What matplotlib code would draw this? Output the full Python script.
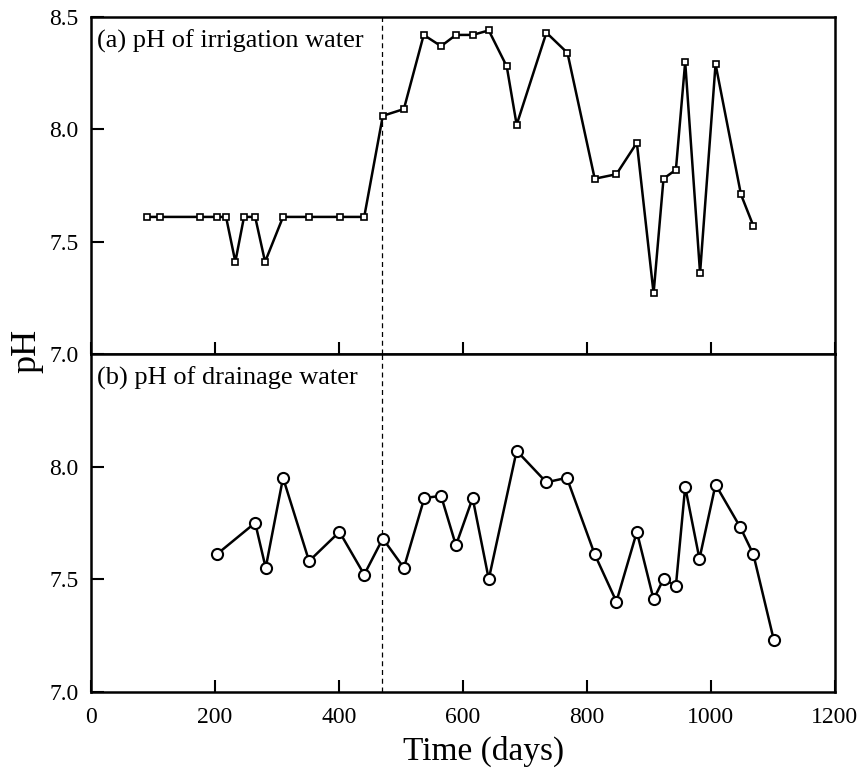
import matplotlib
matplotlib.use("Agg")
import matplotlib.pyplot as plt

# Irrigation water pH (panel a)
days_irr = [90, 112, 176, 203, 218, 233, 247, 265, 281, 310, 352, 402, 441,
            471, 505, 537, 565, 589, 616, 642, 671, 687, 735, 769,
            813, 848, 881, 908, 924, 944, 959, 983, 1008, 1049, 1069]
ph_irr = [7.61, 7.61, 7.61, 7.61, 7.61, 7.41, 7.61, 7.61, 7.41, 7.61, 7.61, 7.61, 7.61,
          8.06, 8.09, 8.42, 8.37, 8.42, 8.42, 8.44, 8.28, 8.02, 8.43, 8.34,
          7.78, 7.80, 7.94, 7.27, 7.78, 7.82, 8.30, 7.36, 8.29, 7.71, 7.57]

# Drainage water pH (panel b)
days_drn = [203, 265, 282, 310, 352, 401, 441, 471, 505, 538, 565, 589, 616, 642,
            687, 735, 768, 813, 848, 881, 908, 924, 944, 959, 982, 1008, 1048, 1069, 1102]
ph_drn = [7.61, 7.75, 7.55, 7.95, 7.58, 7.71, 7.52, 7.68, 7.55, 7.86, 7.87, 7.65, 7.86, 7.50,
          8.07, 7.93, 7.95, 7.61, 7.40, 7.71, 7.41, 7.50, 7.47, 7.91, 7.59, 7.92, 7.73, 7.61, 7.23]

event_day = 470
x_ticks = [0, 200, 400, 600, 800, 1000, 1200]
y_ticks_a = [7.0, 7.5, 8.0, 8.5]
y_ticks_b = [7.0, 7.5, 8.0]

plt.rcParams['font.family'] = ['Liberation Serif', 'DejaVu Serif']

fig = plt.figure(figsize=(8.63, 7.70), dpi=100)
left, right = 0.1054, 0.967
top, mid, bottom = 0.978, 0.5403, 0.1017
ax1 = fig.add_axes([left, mid, right - left, top - mid])
ax2 = fig.add_axes([left, bottom, right - left, mid - bottom], sharex=ax1)

ax1.plot(days_irr, ph_irr, color='black', lw=1.8, marker='s', ms=4.5,
         mfc='white', mec='black', mew=1.2, zorder=3)
ax2.plot(days_drn, ph_drn, color='black', lw=1.8, marker='o', ms=8,
         mfc='white', mec='black', mew=1.5, zorder=3)

for ax in (ax1, ax2):
    ax.axvline(event_day, color='black', lw=0.9, ls=(0, (4, 3)), zorder=1)
    ax.set_xlim(0, 1200)
    ax.set_ylim(7.0, 8.5)
    ax.set_xticks(x_ticks)
    ax.tick_params(direction='in', length=9, width=1.5, labelsize=17, pad=9,
                   top=False, right=False)
    for s in ax.spines.values():
        s.set_linewidth(1.8)

ax1.set_yticks(y_ticks_a)
ax1.set_yticklabels([f"{v:.1f}" for v in y_ticks_a])
ax2.set_yticks(y_ticks_b)
ax2.set_yticklabels([f"{v:.1f}" for v in y_ticks_b])
ax1.tick_params(labelbottom=False)
ax2.set_xticklabels([str(v) for v in x_ticks])
ax2.tick_params(axis='x', pad=11)

ax1.text(0.008, 0.962, "(a) pH of irrigation water", transform=ax1.transAxes,
         ha='left', va='top', fontsize=19)
ax2.text(0.008, 0.962, "(b) pH of drainage water", transform=ax2.transAxes,
         ha='left', va='top', fontsize=19)

fig.text(0.56, 0.024, "Time (days)", ha='center', va='center', fontsize=24)
fig.text(0.031, 0.544, "pH", rotation=90, ha='center', va='center', fontsize=26)

fig.savefig("out.png", dpi=100)
